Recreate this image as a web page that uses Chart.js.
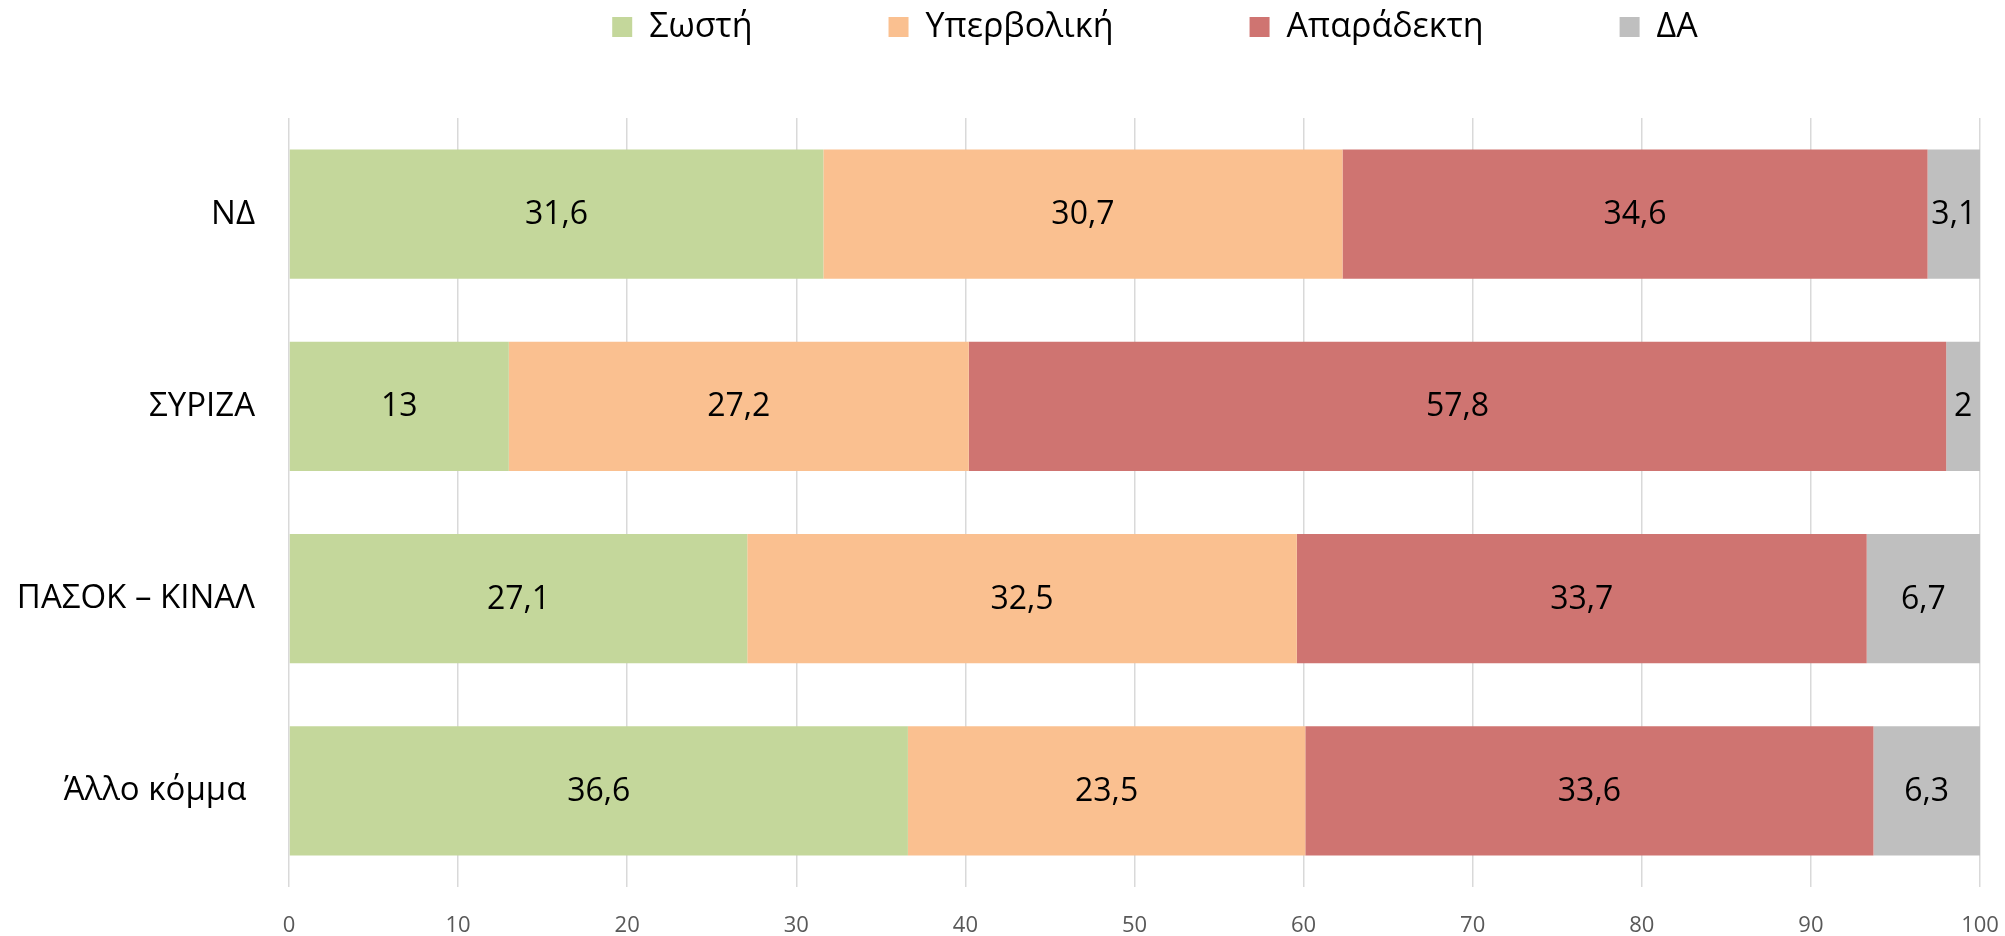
<!DOCTYPE html>
<html>
<head>
<meta charset="utf-8">
<script src="https://cdn.jsdelivr.net/npm/chart.js@4.4.0/dist/chart.umd.min.js"></script>
<style>
  html, body { margin: 0; padding: 0; background: #fff; }
  #wrap { width: 2005px; height: 936px; }
</style>
</head>
<body>
<div id="wrap"><canvas id="chart" width="2005" height="936"></canvas></div>
<script>
// κατηγορίες και τιμές (%)
var parties = ['ΝΔ', 'ΣΥΡΙΖΑ', 'ΠΑΣΟΚ – ΚΙΝΑΛ', 'Άλλο κόμμα '];
var seriesNames = ['Σωστή', 'Υπερβολική', 'Απαράδεκτη', 'ΔΑ'];
var swsti = [31.6, 13, 27.1, 36.6];
var yperboliki = [30.7, 27.2, 32.5, 23.5];
var aparadekti = [34.6, 57.8, 33.7, 33.6];
var da = [3.1, 2, 6.7, 6.3];
var xTicks = [0, 10, 20, 30, 40, 50, 60, 70, 80, 90, 100];

var colors = ['#c4d79b', '#fac090', '#cf7471', '#bfbfbf'];
var FONT = "'Open Sans', 'Noto Sans', sans-serif";

// ετικέτες τιμών στο κέντρο κάθε τμήματος
var valueLabels = {
    id: 'valueLabels',
    afterDatasetsDraw: function (chart) {
        var ctx = chart.ctx;
        ctx.save();
        ctx.font = '32px ' + FONT;
        ctx.fillStyle = '#000';
        ctx.textAlign = 'center';
        ctx.textBaseline = 'middle';
        chart.data.datasets.forEach(function (ds, i) {
            chart.getDatasetMeta(i).data.forEach(function (bar, j) {
                var txt = String(ds.data[j]).replace('.', ',');
                ctx.fillText(txt, (bar.x + bar.base) / 2, bar.y + 1);
            });
        });
        ctx.restore();
    }
};

// το υπόμνημα: μεγάλα κενά ανάμεσα, πάνω στην κορυφή, λίγο δεξιότερα
var legendShift = {
    id: 'legendShift',
    afterLayout: function (chart) {
        var lg = chart.legend;
        var pad = lg.options.labels.padding;
        lg.top = 10 - pad;
        lg.left += 150;
        lg.right += 150;
    }
};

var ctx = document.getElementById('chart').getContext('2d');
var chart = new Chart(ctx, {
    type: 'bar',
    data: {
        labels: parties,
        datasets: [
            { label: seriesNames[0], data: swsti, backgroundColor: colors[0] },
            { label: seriesNames[1], data: yperboliki, backgroundColor: colors[1] },
            { label: seriesNames[2], data: aparadekti, backgroundColor: colors[2] },
            { label: seriesNames[3], data: da, backgroundColor: colors[3] }
        ]
    },
    options: {
        indexAxis: 'y',
        responsive: false,
        animation: false,
        datasets: {
            bar: {
                categoryPercentage: 0.672,
                barPercentage: 1,
                borderWidth: 0
            }
        },
        layout: { padding: { top: 0, right: 10, bottom: 0, left: 15 } },
        plugins: {
            legend: {
                position: 'top',
                maxHeight: 118,
                labels: {
                    boxWidth: 20,
                    boxHeight: 20,
                    padding: 136,
                    color: '#000',
                    font: { family: FONT, size: 34 }
                }
            },
            tooltip: { enabled: false }
        },
        scales: {
            x: {
                stacked: true,
                min: 0,
                max: 100,
                afterBuildTicks: function (axis) {
                    axis.ticks = xTicks.map(function (v) { return { value: v }; });
                },
                afterFit: function (scale) {
                    scale.height = 49;
                    scale.paddingTop = 0;
                    scale.paddingBottom = 0;
                    scale.paddingRight = 25;
                },
                grid: { color: '#d9d9d9', lineWidth: 1.5, drawTicks: false },
                border: { display: false },
                ticks: {
                    padding: 26,
                    color: '#595959',
                    font: { family: FONT, size: 22 }
                }
            },
            y: {
                stacked: true,
                afterFit: function (scale) {
                    scale.width = 274;
                    scale.paddingTop = 0;
                    scale.paddingBottom = 0;
                },
                grid: { display: false, drawTicks: false },
                border: { display: false },
                ticks: {
                    padding: 34,
                    color: '#000',
                    font: { family: FONT, size: 33 }
                }
            }
        }
    },
    plugins: [valueLabels, legendShift]
});
</script>
</body>
</html>
